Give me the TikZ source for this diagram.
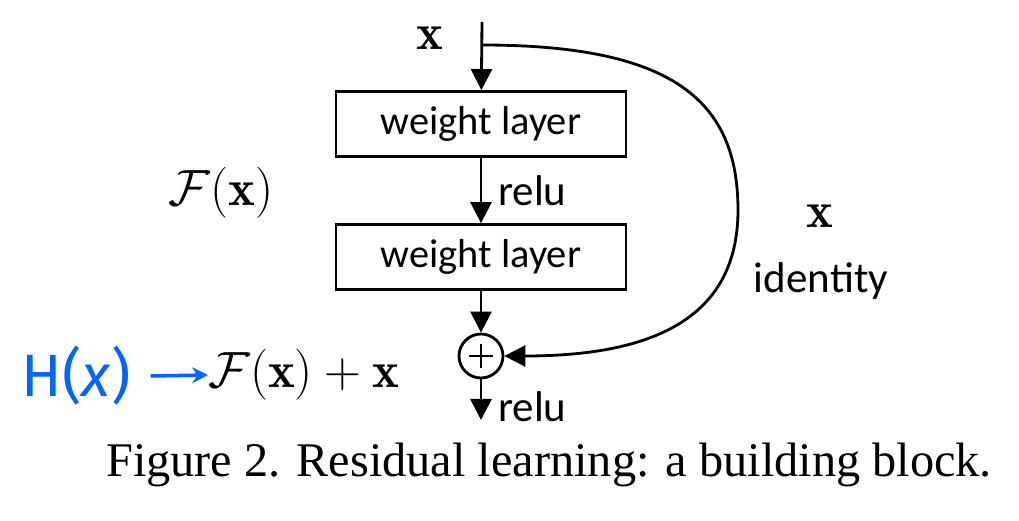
\documentclass[tikz,border=0pt]{standalone}
\usepackage{fix-cm}
\usepackage{amsmath}
\usepackage{fontspec}
\newfontfamily\capfont{Liberation Serif}
\newfontfamily\calib{Carlito}
\newfontfamily\handfont{Fira Sans}
\usetikzlibrary{arrows.meta}

\begin{document}
\begin{tikzpicture}[
  x=0.02cm, y=-0.02cm,
  layer/.style     = {draw, line width=1.6pt, minimum width=5.8cm,
                      minimum height=1.3cm, inner sep=0pt,
                      font=\calib\fontsize{23}{27}\selectfont},
  sum/.style       = {draw, circle, line width=1.6pt, minimum size=0.88cm,
                      inner sep=0pt},
  arrow/.style     = {line width=1.6pt, -{Triangle[length=12pt,width=12pt]}},
  skip/.style      = {line width=1.6pt},
  lbl/.style       = {font=\calib\fontsize{24.5}{28}\selectfont, inner sep=0pt},
  mth/.style       = {font=\fontsize{29}{33}\selectfont, inner sep=0pt},
  hand/.style      = {text=blue!60!cyan, inner sep=0pt,
                      font=\handfont\fontsize{34}{40}\selectfont},
  caption/.style   = {font=\capfont\fontsize{27.5}{32}\selectfont, inner sep=0pt},
]
  \useasboundingbox (0,0) rectangle (1019,521);

  \coordinate (in) at (482,22);
  \coordinate (fork) at (482,45);
  \node[mth] (xin) at (430,38) {$\mathbf{x}$};

  \node[layer] (w1) at (481,124) {weight layer};
  \node[layer] (w2) at (481,257) {weight layer};
  \node[sum] (add) at (481,356) {};
  \draw[line width=1.6pt] (add.center) ++(0,-12) -- ++(0,24)
                          (add.center) ++(-12,0) -- ++(24,0);
  \coordinate (out) at (481,420);

  \draw[arrow] (in) -- (w1);
  \draw[arrow] (w1) -- (w2) node[lbl, midway, anchor=west, xshift=9pt] (r1) {relu};
  \draw[arrow] (w2) -- (add);
  \draw[arrow] (add) -- (out) node[lbl, midway, anchor=west, xshift=9pt, yshift=-4pt] (r2) {relu};

  \draw[skip] (fork) .. controls (672,45) and (738,100) .. (738,210);
  \draw[arrow] (738,210) .. controls (738,320) and (650,356) .. (add.east);

  \node[mth] (fx) at (221,193) {$\mathcal{F}(\mathbf{x})$};
  \node[mth] (xid) at (820,216) {$\mathbf{x}$};
  \node[lbl] (id) at (821,281) {identity};

  \node[hand] (hx) at (76,376) {H(\textit{x})};
  \node[mth, anchor=west] (res) at (208,375) {$\mathcal{F}(\mathbf{x}) + \mathbf{x}$};
  \draw[line width=2pt, blue!60!cyan, -{Stealth[length=9pt,width=9pt]}]
    (hx.east) ++(20,0) coordinate (h0) -- (res.west);

  \node[caption] (cap) at (549,465) {Figure 2. Residual learning: a building block.};
\end{tikzpicture}
\end{document}
